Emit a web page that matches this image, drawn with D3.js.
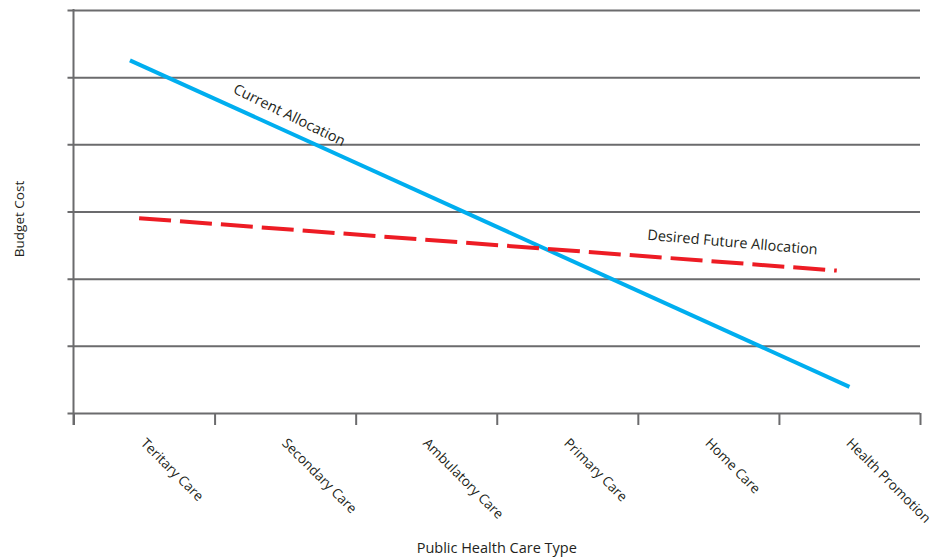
<!DOCTYPE html>
<html>
<head>
<meta charset="utf-8">
<script src="https://cdn.jsdelivr.net/npm/d3@7"></script>
<style>
  html, body { margin: 0; padding: 0; background: #ffffff; }
  svg { display: block; }
  text { font-family: "Open Sans", "Noto Sans", sans-serif; fill: #231f20; }
</style>
</head>
<body>
<svg id="chart" width="936" height="560"></svg>
<script>
// ---- data ----
const categories = ["Teritary Care", "Secondary Care", "Ambulatory Care", "Primary Care", "Home Care", "Health Promotion"];
const yGridValues = [0, 1, 2, 3, 4, 5, 6];
// line endpoints: position along category axis (in category units) and budget value (grid units)
const currentPos = [0.4, 5.5];
const currentValues = [5.25, 0.39];
const desiredPos = [0.465, 5.41];
const desiredValues = [2.9, 2.12];
const seriesNames = ["Current Allocation", "Desired Future Allocation"];
const xTitle = "Public Health Care Type";
const yTitle = "Budget Cost";

// ---- layout ----
const mLeft = 73.5, mRight = 920, mTop = 10, mBottom = 413;
const svg = d3.select("#chart");

const x = d3.scaleLinear().domain([0, categories.length]).range([mLeft, mRight]);
const xBand = d3.scaleBand().domain(categories).range([mLeft, mRight]);
const y = d3.scaleLinear().domain([0, 6]).range([mBottom, mTop]);

const gridColor = "#6b6b6d";

// gridlines (with small left stubs)
const grid = svg.append("g")
  .attr("transform", `translate(${mRight},0)`)
  .call(d3.axisLeft(y).tickValues(yGridValues).tickSize(mRight - 67.5).tickFormat(""));
grid.select(".domain").remove();
grid.selectAll(".tick line").attr("stroke", gridColor).attr("stroke-width", 2);

// x axis ticks at category boundaries
const xAxis = svg.append("g")
  .attr("transform", `translate(0,${mBottom})`)
  .call(d3.axisBottom(x).tickValues(d3.range(categories.length + 1)).tickSize(12).tickSizeOuter(0).tickFormat(""));
xAxis.select(".domain").remove();
xAxis.selectAll(".tick line").attr("stroke", gridColor).attr("stroke-width", 2);

// y axis line
svg.append("line")
  .attr("x1", mLeft).attr("x2", mLeft)
  .attr("y1", y(6) - 1).attr("y2", mBottom + 12)
  .attr("stroke", gridColor).attr("stroke-width", 2);

// category labels
svg.append("g").selectAll("text")
  .data(categories)
  .join("text")
  .attr("transform", d => `translate(${xBand(d) + xBand.bandwidth() / 2 - 4},${mBottom + 31}) rotate(45)`)
  .attr("text-anchor", "start")
  .style("font-size", "13.6px")
  .text(d => d);

// lines
const lineGen = d3.line().x(d => x(d[0])).y(d => y(d[1]));
svg.append("path")
  .datum(d3.zip(currentPos, currentValues))
  .attr("d", lineGen)
  .attr("fill", "none")
  .attr("stroke", "#00aeef")
  .attr("stroke-width", 4);

svg.append("path")
  .datum(d3.zip(desiredPos, desiredValues))
  .attr("d", lineGen)
  .attr("fill", "none")
  .attr("stroke", "#ed1c24")
  .attr("stroke-width", 4)
  .attr("stroke-dasharray", "32,9");

// series annotations
svg.append("text")
  .attr("transform", `translate(${x(1.125)},${y(4.77)}) rotate(26)`)
  .style("font-size", "14.5px")
  .text(seriesNames[0]);

svg.append("text")
  .attr("transform", `translate(${x(4.065)},${y(2.58)}) rotate(5)`)
  .style("font-size", "14.5px")
  .text(seriesNames[1]);

// axis titles
svg.append("text")
  .attr("x", (mLeft + mRight) / 2)
  .attr("y", 553)
  .attr("text-anchor", "middle")
  .style("font-size", "14.5px")
  .text(xTitle);

svg.append("text")
  .attr("transform", `translate(24,219) rotate(-90)`)
  .attr("text-anchor", "middle")
  .style("font-size", "13.5px")
  .text(yTitle);
</script>
</body>
</html>
